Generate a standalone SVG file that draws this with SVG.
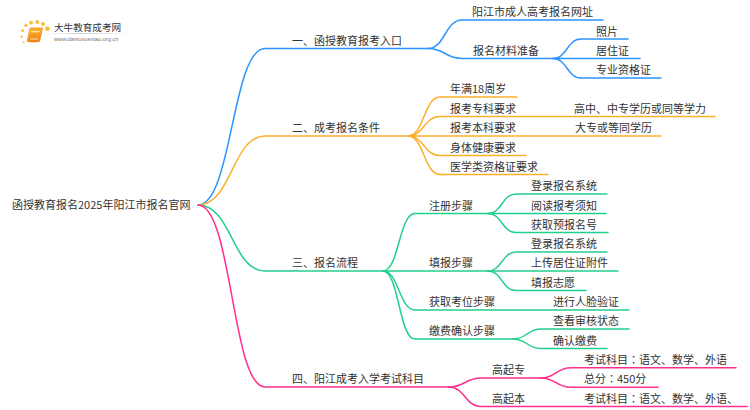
<svg xmlns="http://www.w3.org/2000/svg" width="750" height="410" viewBox="0 0 750 410">
<style>
text{font-family:"Noto Sans CJK SC","Liberation Sans",sans-serif;font-size:11px;fill:#333}
tspan.c{font-family:"Noto Sans CJK TC","Liberation Sans",sans-serif}
path{fill:none;stroke-width:1.5;stroke-linecap:round}
.b{stroke:#2c94ff}.o{stroke:#fbb02a}.g{stroke:#22cf8c}.p{stroke:#ff2f8e}
.d{fill:#fbbf3a}
</style>
<defs><linearGradient id="lg" x1="0" x2="1" y1="0" y2="0"><stop offset="0" stop-color="#ccc" stop-opacity="0"/><stop offset=".4" stop-color="#ccc"/><stop offset="1" stop-color="#ccc" stop-opacity="0"/></linearGradient>
<linearGradient id="bk" x1="0" x2="0" y1="0" y2="1"><stop offset="0" stop-color="#fbb62e"/><stop offset="1" stop-color="#ee7d12"/></linearGradient></defs>
<g id="logo">
<circle class="d" cx="23.7" cy="42.3" r="1"/><circle class="d" cx="21.7" cy="36.7" r="1.2"/><circle class="d" cx="22.7" cy="30.700" r="1.4"/><circle class="d" cx="26" cy="25.300" r="1.6"/><circle class="d" cx="31" cy="22.700" r="1.9"/><circle class="d" cx="37.300" cy="22" r="2"/><circle class="d" cx="43" cy="24" r="2.1"/><circle class="d" cx="47.500" cy="28.700" r="2.4"/>
<path d="M30.500,28H42.500L39.500,41.500Q33,42.500 27.500,41.500Z" style="fill:url(#bk);stroke:#ee8a18;stroke-width:.8;stroke-linejoin:round"/><rect x="31" y="31" width="8.500" height="1.300" fill="#fde3a0"/><rect x="30" y="38.500" width="8" height="1" fill="#fde3a0"/>
<text x="54" y="31" style="font-size:9.6px">大牛教育成考网</text>
<rect x="45" y="33" width="88" height="1" fill="url(#lg)"/>
<text x="54" y="41" style="font-size:5.7px;fill:#777;font-family:'Liberation Sans',sans-serif">www.daniuxuexiao.org.cn</text>
</g>
<g id="connectors">
<path class="b" d="M198,205C232,205 232,48.500 265,48.500H428"/>
<path class="b" d="M428,48.500C445,48.500 445,20 462,20H603"/>
<path class="b" d="M428,48.500C445,48.500 445,58.500 462,58.500H553"/>
<path class="b" d="M553,58.500C567,58.500 567,39 581,39H628"/>
<path class="b" d="M553,58.500H640"/>
<path class="b" d="M553,58.500C567,58.500 567,78 581,78H661"/>
<path class="o" d="M198,205C232,205 232,136 265,136H408"/>
<path class="o" d="M408,136C424,136 424,97 440,97H517"/>
<path class="o" d="M408,136C424,136 424,116.500 440,116.500H715"/>
<path class="o" d="M408,136H661"/>
<path class="o" d="M408,136C424,136 424,155.500 440,155.500H526"/>
<path class="o" d="M408,136C424,136 424,174.500 440,174.500H548"/>
<path class="g" d="M198,205C232,205 232,271 265,271H383"/>
<path class="g" d="M383,271C399,271 399,213.500 415,213.500H488"/>
<path class="g" d="M383,271H488"/>
<path class="g" d="M383,271C399,271 399,310 415,310H629"/>
<path class="g" d="M383,271C399,271 399,339 415,339H513"/>
<path class="g" d="M488,213.500C502,213.500 502,194 516,194H607"/>
<path class="g" d="M488,213.500H606"/>
<path class="g" d="M488,213.500C502,213.500 502,232.500 516,232.500H608"/>
<path class="g" d="M488,271C502,271 502,252 516,252H607"/>
<path class="g" d="M488,271H618"/>
<path class="g" d="M488,271C502,271 502,290.500 516,290.500H586"/>
<path class="g" d="M513,339C527,339 527,329 541,329H629"/>
<path class="g" d="M513,339C527,339 527,348.500 541,348.500H607"/>
<path class="p" d="M198,205C232,205 232,387 265,387H449"/>
<path class="p" d="M449,387C465,387 465,378 481,378H541"/>
<path class="p" d="M449,387C465,387 465,406.500 481,406.500H747"/>
<path class="p" d="M541,378C556,378 556,367.700 571,367.700H736"/>
<path class="p" d="M541,378C556,378 556,387.300 571,387.300H658"/>
</g>
<g id="root"><text x="12" y="209">函授教育报名2025年阳江市报名官网</text></g>
<g id="n1"><text x="292" y="45">一、函授教育报考入口</text></g>
<g id="n1-1"><text x="472" y="16">阳江市成人高考报名网址</text></g>
<g id="n1-2"><text x="473" y="55">报名材料准备</text></g>
<g id="n1-2-1"><text x="596" y="36">照片</text></g>
<g id="n1-2-2"><text x="596" y="55">居住证</text></g>
<g id="n1-2-3"><text x="596" y="74">专业资格证</text></g>
<g id="n2"><text x="292" y="132">二、成考报名条件</text></g>
<g id="n2-1"><text x="450" y="93">年满18周岁</text></g>
<g id="n2-2"><text x="450" y="113">报考专科要求</text></g>
<g id="n2-2-1"><text x="574" y="113">高中、中专学历或同等学力</text></g>
<g id="n2-3"><text x="450" y="132">报考本科要求</text></g>
<g id="n2-3-1"><text x="575" y="132">大专或等同学历</text></g>
<g id="n2-4"><text x="450" y="152">身体健康要求</text></g>
<g id="n2-5"><text x="450" y="171">医学类资格证要求</text></g>
<g id="n3"><text x="292" y="267">三、报名流程</text></g>
<g id="n3-1"><text x="429" y="210">注册步骤</text></g>
<g id="n3-1-1"><text x="531" y="190">登录报名系统</text></g>
<g id="n3-1-2"><text x="531" y="210">阅读报考须知</text></g>
<g id="n3-1-3"><text x="531" y="229">获取预报名号</text></g>
<g id="n3-2"><text x="429" y="267">填报步骤</text></g>
<g id="n3-2-1"><text x="531" y="248">登录报名系统</text></g>
<g id="n3-2-2"><text x="531" y="267">上传居住证附件</text></g>
<g id="n3-2-3"><text x="531" y="287">填报志愿</text></g>
<g id="n3-3"><text x="429" y="306">获取考位步骤</text></g>
<g id="n3-3-1"><text x="553" y="306">进行人脸验证</text></g>
<g id="n3-4"><text x="429" y="335">缴费确认步骤</text></g>
<g id="n3-4-1"><text x="553" y="325">查看审核状态</text></g>
<g id="n3-4-2"><text x="553" y="345">确认缴费</text></g>
<g id="n4"><text x="292" y="383">四、阳江成考入学考试科目</text></g>
<g id="n4-1"><text x="492" y="374">高起专</text></g>
<g id="n4-1-1"><text x="584" y="364">考试科目<tspan class="c">：</tspan>语文、数学、外语</text></g>
<g id="n4-1-2"><text x="584" y="383">总分<tspan class="c">：</tspan>450分</text></g>
<g id="n4-2"><text x="492" y="403">高起本</text></g>
<g id="n4-2-1"><text x="584" y="403">考试科目<tspan class="c">：</tspan>语文、数学、外语、</text></g>
</svg>
